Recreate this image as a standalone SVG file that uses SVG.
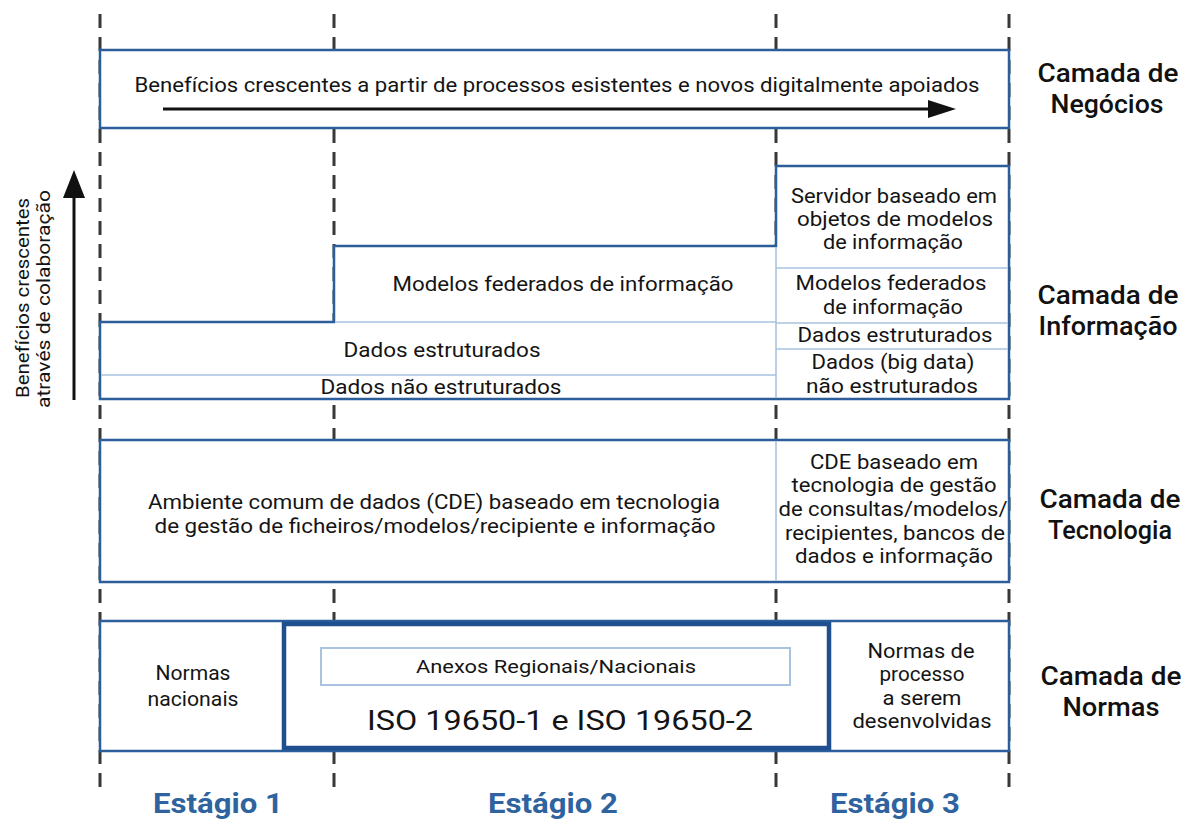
<svg xmlns="http://www.w3.org/2000/svg" width="1192" height="819" viewBox="0 0 1192 819">
<style>
.t{font-family:Roboto,"Liberation Sans",sans-serif;font-size:19.5px;fill:#141414;text-anchor:middle}
.lab{font-family:Roboto,"Liberation Sans",sans-serif;font-size:26px;font-weight:500;fill:#111;text-anchor:middle}
.stg{font-family:Roboto,"Liberation Sans",sans-serif;font-size:28px;font-weight:bold;fill:#2e63a0;text-anchor:middle}
.box{fill:#fff;stroke:#2c5e9c;stroke-width:2.5}
.thin{stroke:#a9c3df;stroke-width:1.6;fill:none}
.dash{stroke:#383838;stroke-width:3;stroke-dasharray:14 9;fill:none}
</style>
<rect width="1192" height="819" fill="#fff"/>
<g id="guides">
<line class="dash" x1="100" y1="14" x2="100" y2="790"/>
<line class="dash" x1="334" y1="14" x2="334" y2="790"/>
<line class="dash" x1="776" y1="14" x2="776" y2="790"/>
<line class="dash" x1="1009" y1="14" x2="1009" y2="790"/>
</g>
<g id="business">
<rect class="box" x="100" y="50" width="909" height="78"/>
<text class="t" x="557" y="92" textLength="845" lengthAdjust="spacingAndGlyphs">Benefícios crescentes a partir de processos esistentes e novos digitalmente apoiados</text>
</g>
<g id="information">
<path class="box" d="M100,399 V322 H334 V246 H776 V166 H1009 V399 Z"/>
<line class="thin" x1="101" y1="375" x2="776" y2="375"/>
<line class="thin" x1="335" y1="322" x2="776" y2="322"/>
<line class="thin" x1="776" y1="247" x2="776" y2="398"/>
<line class="thin" x1="776" y1="268" x2="1008" y2="268"/>
<line class="thin" x1="776" y1="323" x2="1008" y2="323"/>
<line class="thin" x1="776" y1="349" x2="1008" y2="349"/>
<text class="t" x="563" y="291" textLength="341" lengthAdjust="spacingAndGlyphs">Modelos federados de informação</text>
<text class="t" x="442" y="357" textLength="197" lengthAdjust="spacingAndGlyphs">Dados estruturados</text>
<text class="t" x="441" y="394" textLength="241" lengthAdjust="spacingAndGlyphs">Dados não estruturados</text>
<text class="t" x="894" y="203" textLength="206" lengthAdjust="spacingAndGlyphs">Servidor baseado em</text>
<text class="t" x="895" y="226" textLength="196" lengthAdjust="spacingAndGlyphs">objetos de modelos</text>
<text class="t" x="893" y="249" textLength="140" lengthAdjust="spacingAndGlyphs">de informação</text>
<text class="t" x="891" y="290" textLength="191" lengthAdjust="spacingAndGlyphs">Modelos federados</text>
<text class="t" x="893" y="314" textLength="140" lengthAdjust="spacingAndGlyphs">de informação</text>
<text class="t" x="895" y="342" textLength="195" lengthAdjust="spacingAndGlyphs">Dados estruturados</text>
<text class="t" x="893" y="369" textLength="163" lengthAdjust="spacingAndGlyphs">Dados (big data)</text>
<text class="t" x="892" y="393" textLength="172" lengthAdjust="spacingAndGlyphs">não estruturados</text>
</g>
<g id="technology">
<rect class="box" x="100" y="440" width="909" height="142"/>
<line class="thin" x1="776" y1="441" x2="776" y2="581"/>
<text class="t" x="434" y="509" textLength="572" lengthAdjust="spacingAndGlyphs">Ambiente comum de dados (CDE) baseado em tecnologia</text>
<text class="t" x="435" y="533" textLength="561" lengthAdjust="spacingAndGlyphs">de gestão de ficheiros/modelos/recipiente e informação</text>
<text class="t" x="894" y="469" textLength="168" lengthAdjust="spacingAndGlyphs">CDE baseado em</text>
<text class="t" x="894" y="492" textLength="205" lengthAdjust="spacingAndGlyphs">tecnologia de gestão</text>
<text class="t" x="893" y="516" textLength="229" lengthAdjust="spacingAndGlyphs">de consultas/modelos/</text>
<text class="t" x="895" y="540" textLength="220" lengthAdjust="spacingAndGlyphs">recipientes, bancos de</text>
<text class="t" x="894" y="563" textLength="198" lengthAdjust="spacingAndGlyphs">dados e informação</text>
</g>
<g id="norms">
<rect class="box" x="100" y="621" width="909" height="130"/>
<text class="t" x="193" y="680" textLength="75" lengthAdjust="spacingAndGlyphs">Normas</text>
<text class="t" x="193" y="706" textLength="91" lengthAdjust="spacingAndGlyphs">nacionais</text>
<text class="t" x="921" y="658" textLength="107" lengthAdjust="spacingAndGlyphs">Normas de</text>
<text class="t" x="922" y="681" textLength="85" lengthAdjust="spacingAndGlyphs">processo</text>
<text class="t" x="922" y="705" textLength="79" lengthAdjust="spacingAndGlyphs">a serem</text>
<text class="t" x="922" y="728" textLength="139" lengthAdjust="spacingAndGlyphs">desenvolvidas</text>
</g>
<g id="iso">
<rect x="284" y="624" width="545" height="124" fill="#fff" stroke="#1f4f8f" stroke-width="4.5"/>
<rect x="321" y="648" width="469" height="37" fill="#fff" stroke="#a9c3df" stroke-width="2"/>
<text class="t" x="556" y="673" style="font-size:18.5px" textLength="280" lengthAdjust="spacingAndGlyphs">Anexos Regionais/Nacionais</text>
<text class="t" x="560" y="730" style="font-size:27px" textLength="386" lengthAdjust="spacingAndGlyphs">ISO 19650-1 e ISO 19650-2</text>
</g>
<g id="side-axis">
<text class="t" transform="translate(29,298) rotate(-90)" style="font-size:17.5px" textLength="200" lengthAdjust="spacingAndGlyphs">Benefícios crescentes</text>
<text class="t" transform="translate(50,299) rotate(-90)" style="font-size:17.5px" textLength="218" lengthAdjust="spacingAndGlyphs">através de colaboração</text>
</g>
<g id="connectors">
<line x1="163" y1="109" x2="932" y2="109" stroke="#111" stroke-width="3"/>
<polygon points="956,109 928,100 928,118" fill="#111"/>
<line x1="74" y1="400" x2="74" y2="194" stroke="#111" stroke-width="3"/>
<polygon points="74,170 63,198 85,198" fill="#111"/>
</g>
<g id="layer-labels">
<text class="lab" x="1108" y="82" textLength="141" lengthAdjust="spacingAndGlyphs">Camada de</text>
<text class="lab" x="1107" y="113" textLength="113" lengthAdjust="spacingAndGlyphs">Negócios</text>
<text class="lab" x="1108" y="304" textLength="141" lengthAdjust="spacingAndGlyphs">Camada de</text>
<text class="lab" x="1108" y="335" textLength="139" lengthAdjust="spacingAndGlyphs">Informação</text>
<text class="lab" x="1110" y="508" textLength="141" lengthAdjust="spacingAndGlyphs">Camada de</text>
<text class="lab" x="1110" y="539" textLength="124" lengthAdjust="spacingAndGlyphs">Tecnologia</text>
<text class="lab" x="1111" y="685" textLength="141" lengthAdjust="spacingAndGlyphs">Camada de</text>
<text class="lab" x="1111" y="716" textLength="97" lengthAdjust="spacingAndGlyphs">Normas</text>
</g>
<g id="stages">
<text class="stg" x="218" y="813" textLength="130" lengthAdjust="spacingAndGlyphs">Estágio 1</text>
<text class="stg" x="553" y="813" textLength="130" lengthAdjust="spacingAndGlyphs">Estágio 2</text>
<text class="stg" x="895" y="813" textLength="130" lengthAdjust="spacingAndGlyphs">Estágio 3</text>
</g>
</svg>
